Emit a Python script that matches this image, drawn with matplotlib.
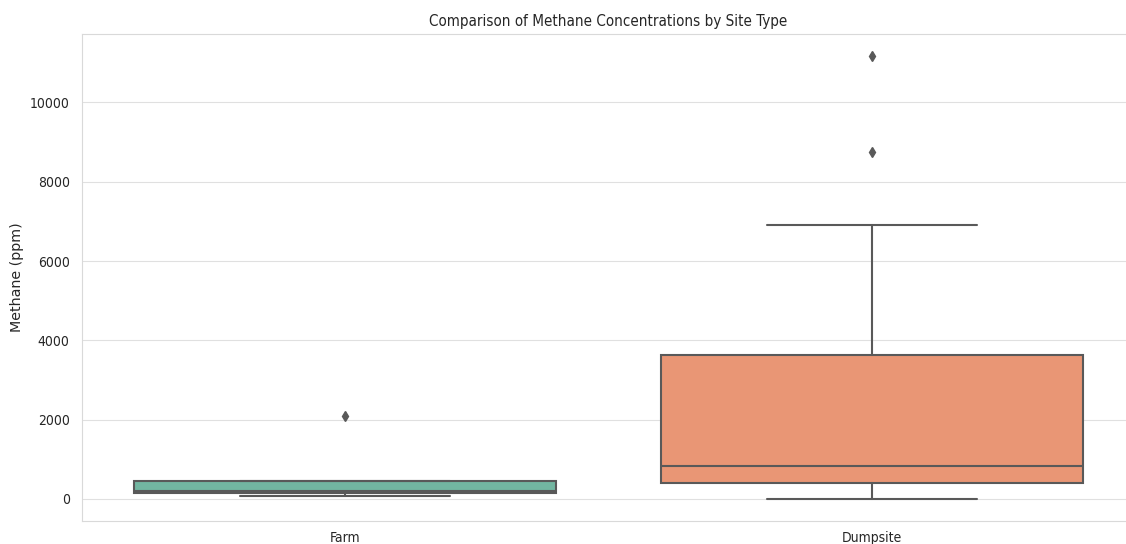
import matplotlib
matplotlib.use('Agg')
import matplotlib.pyplot as plt
import seaborn as sns
import colorsys

sites = ['Farm', 'Dumpsite']
# five-number summaries (ppm)
q1 = [160, 400]
medians = [190, 820]
q3 = [455, 3640]
whis_lo = [85, 5]
whis_hi = [440, 6900]
outliers = [[2100], [8740, 11170]]

sns.set_style('whitegrid')
plt.rcParams['font.family'] = ['DejaVu Sans']
plt.rcParams['font.stretch'] = 'condensed'

pal = sns.color_palette('Set2', 2)
pal = [sns.desaturate(c, 0.75) for c in pal]
lum = min(colorsys.rgb_to_hls(*c)[1] for c in pal) * 0.6
gray = (lum, lum, lum)

fig = plt.figure(figsize=(11.26, 5.44), dpi=100)
ax = fig.add_axes([0.0724, 0.0423, 0.936, 0.8952])

stats = []
for i in range(len(sites)):
    stats.append(dict(med=medians[i], q1=q1[i], q3=q3[i],
                      whislo=whis_lo[i], whishi=whis_hi[i],
                      fliers=outliers[i], label=sites[i]))

bp = ax.bxp(stats, positions=range(len(sites)), widths=0.8, patch_artist=True,
            boxprops=dict(edgecolor=gray, linewidth=1.5),
            medianprops=dict(color=gray, linewidth=1.5),
            whiskerprops=dict(color=gray, linewidth=1.5),
            capprops=dict(color=gray, linewidth=1.5),
            flierprops=dict(marker='d', markerfacecolor=gray, markeredgecolor=gray,
                            markersize=5, linestyle='none'),
            capwidths=0.4)
for patch, c in zip(bp['boxes'], pal):
    patch.set_facecolor(c)

ax.set_xlim(-0.5, 1.5)
ax.set_ylim(-558, 11728)
ax.grid(axis='x', visible=False)
for s in ax.spines.values():
    s.set_color('.85')
ax.grid(axis='y', color='.88')
ax.tick_params(axis='both', length=0, labelsize=10, labelcolor='.15')
ax.tick_params(axis='y', pad=8.5)
ax.tick_params(axis='x', pad=7.5)
# rotated label keeps normal width
ax.set_ylabel('Methane (ppm)', fontsize=10.3, color='.15', labelpad=4,
              fontstretch='normal')
ax.set_title('Comparison of Methane Concentrations by Site Type', fontsize=10.9, color='.15')

fig.savefig('out.png', dpi=100)
